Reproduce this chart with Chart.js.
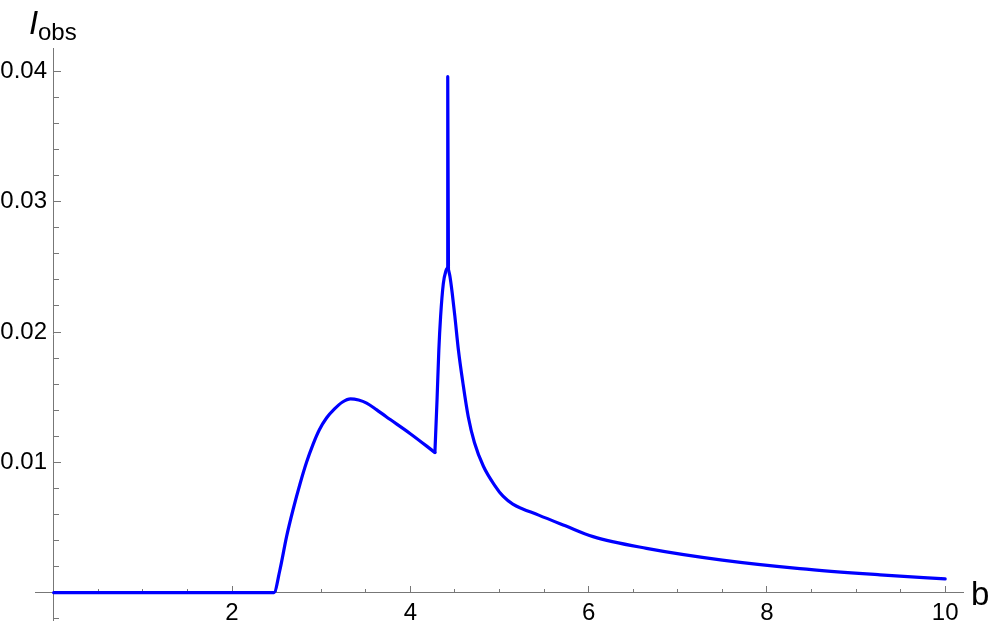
<!DOCTYPE html>
<html>
<head>
  <meta charset="utf-8">
  <title>I_obs vs b</title>
  <script src="https://cdn.jsdelivr.net/npm/chart.js"></script>
  <style>
    html, body { margin: 0; padding: 0; background: #fff; }
    #wrap { width: 997px; height: 629px; position: relative; }
  </style>
</head>
<body>
  <div id="wrap"><canvas id="iobsChart" width="997" height="629"></canvas></div>

  <script>
    // curve
    const bValues = [0, 2.47, 2.536, 2.612, 2.686, 2.761, 2.836, 2.91, 2.98, 3.06, 3.15, 3.24, 3.33, 3.42, 3.51, 3.62, 3.73, 4.0, 4.276,
      4.30, 4.32, 4.34, 4.37, 4.40, 4.415, 4.42, 4.428, 4.444, 4.47, 4.50, 4.54, 4.59, 4.65, 4.72, 4.82, 4.95, 5.04, 5.15, 5.44, 5.74,
      6.05, 6.65, 7.5, 8.37, 9.27, 10.0];
    const iObs = [0, 0, 0.0017, 0.0043, 0.0064, 0.0083, 0.0100, 0.0114, 0.0125, 0.0134, 0.0141, 0.01463, 0.01487, 0.01478, 0.01455, 0.01405, 0.0135, 0.0122, 0.01076,
      0.0148, 0.0186, 0.0212, 0.0237, 0.0247, 0.0249, 0.0396, 0.0248, 0.0243, 0.0230, 0.0212, 0.0186, 0.0161, 0.0135, 0.0115, 0.0097, 0.0082, 0.0074, 0.0068, 0.00595, 0.00513,
      0.0043, 0.0034, 0.0025, 0.00185, 0.00137, 0.00105];

    // sharp corners: kink at b=4.276, thin spike around b=4.42
    const corners = [18, 24, 26];

    const xMajorTicks = [2, 4, 6, 8, 10];
    const yMajorTicks = [0.01, 0.02, 0.03, 0.04];
    const yTickLabels = ['0.01', '0.02', '0.03', '0.04'];

    const xMinorTicks = [];
    for (let i = 1; i <= 20; i++) xMinorTicks.push(i * 0.5);
    const yMinorTicks = [];
    for (let i = -1; i <= 20; i++) yMinorTicks.push(i * 0.002);

    const X_MIN = -0.21, X_MAX = 10.2;
    const Y_MIN = -0.0021, Y_MAX = 0.0418;
    const axisGray = '#777777';
    const tickFont = { family: '"Liberation Sans", Arial, sans-serif', size: 24 };

    // split the curve at the corners so smoothing never rounds them off
    const bounds = [0, ...corners, bValues.length - 1];
    const pieces = [];
    for (let k = 0; k < bounds.length - 1; k++) {
      const from = bounds[k], to = bounds[k + 1];
      const isSpike = from === corners[1];
      const pts = [];
      for (let i = from; i <= to; i++) pts.push({ x: bValues[i], y: iObs[i] });
      pieces.push({
        data: pts,
        showLine: true,
        borderColor: '#0000ff',
        borderWidth: 3.2,
        pointRadius: 0,
        cubicInterpolationMode: isSpike ? 'default' : 'monotone',
        tension: isSpike ? 0 : 0.4,
        borderJoinStyle: 'round',
        borderCapStyle: 'round'
      });
    }

    const noEdgePadding = s => { s.paddingTop = 0; s.paddingBottom = 0; s.paddingLeft = 0; s.paddingRight = 0; };

    const axisTitles = {
      id: 'axisTitles',
      afterDraw(chart) {
        const ctx = chart.ctx;
        ctx.save();
        ctx.fillStyle = '#000';
        ctx.textBaseline = 'alphabetic';
        ctx.textAlign = 'left';
        ctx.font = 'italic 33px "Liberation Sans", Arial, sans-serif';
        ctx.fillText('I', 29, 34);
        ctx.font = '24px "Liberation Sans", Arial, sans-serif';
        ctx.fillText('obs', 38, 40);
        ctx.font = '33px "Liberation Sans", Arial, sans-serif';
        ctx.fillText('b', 971, 605);
        ctx.restore();
      }
    };

    const ctx = document.getElementById('iobsChart').getContext('2d');
    new Chart(ctx, {
      type: 'scatter',
      data: { datasets: pieces },
      options: {
        responsive: false,
        animation: false,
        layout: { padding: { left: 35, right: 34, top: 48, bottom: 9 } },
        plugins: { legend: { display: false }, tooltip: { enabled: false } },
        scales: {
          x: {
            type: 'linear',
            position: { y: 0 },
            min: X_MIN, max: X_MAX,
            afterBuildTicks: s => { s.ticks = xMajorTicks.map(v => ({ value: v })); },
            afterFit: noEdgePadding,
            grid: { drawOnChartArea: false, drawTicks: true, tickLength: -7, tickColor: axisGray, tickWidth: 1 },
            border: { display: true, color: axisGray, width: 1 },
            ticks: { autoSkip: false, maxRotation: 0, color: '#000', font: tickFont, padding: 13, callback: v => String(v) }
          },
          xMinor: {
            type: 'linear',
            axis: 'x',
            position: { y: 0 },
            min: X_MIN, max: X_MAX,
            afterBuildTicks: s => { s.ticks = xMinorTicks.map(v => ({ value: v })); },
            afterFit: noEdgePadding,
            grid: { drawOnChartArea: false, drawTicks: true, tickLength: -4, tickColor: axisGray, tickWidth: 1 },
            border: { display: false },
            ticks: { display: false, autoSkip: false }
          },
          y: {
            type: 'linear',
            position: { x: 0 },
            min: Y_MIN, max: Y_MAX,
            afterBuildTicks: s => { s.ticks = yMajorTicks.map(v => ({ value: v })); },
            afterFit: noEdgePadding,
            grid: { drawOnChartArea: false, drawTicks: true, tickLength: -8, tickColor: axisGray, tickWidth: 1 },
            border: { display: true, color: axisGray, width: 1 },
            ticks: {
              autoSkip: false, color: '#000', font: tickFont, padding: 0,
              // trailing space keeps the label clear of the axis line
              callback: v => (yTickLabels[yMajorTicks.indexOf(v)] ?? '') + ' '
            }
          },
          yMinor: {
            type: 'linear',
            axis: 'y',
            position: { x: 0 },
            min: Y_MIN, max: Y_MAX,
            afterBuildTicks: s => { s.ticks = yMinorTicks.map(v => ({ value: v })); },
            afterFit: noEdgePadding,
            grid: { drawOnChartArea: false, drawTicks: true, tickLength: -5, tickColor: axisGray, tickWidth: 1 },
            border: { display: false },
            ticks: { display: false, autoSkip: false }
          }
        }
      },
      plugins: [axisTitles]
    });
  </script>
</body>
</html>
